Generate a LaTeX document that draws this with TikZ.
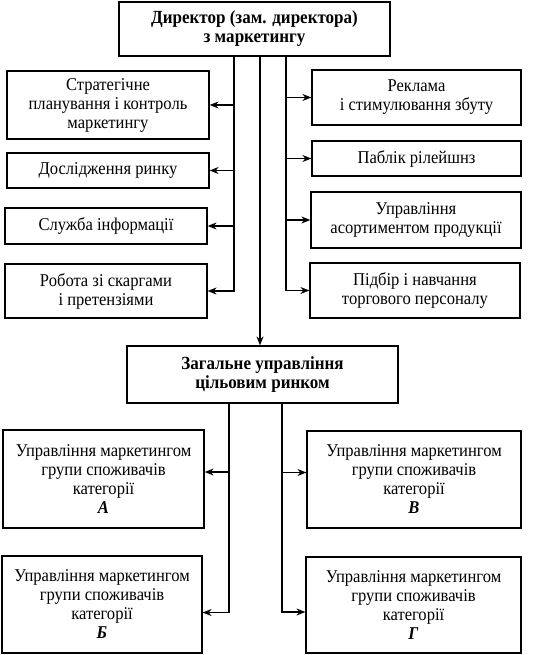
\documentclass[tikz,border=0pt]{standalone}
\usepackage{fontspec}
\setmainfont{Liberation Serif}[FakeStretch = 0.92]
\usetikzlibrary{arrows.meta, calc}
\tikzset{> = { Stealth[length = 9pt, width = 7pt] }}
\tikzset{
	unit/.style = {draw, line width = 1.2pt, align = center, inner sep = 1pt, font = \fontsize{18}{19}\selectfont},
	head/.style = {unit, font = \fontsize{18.5}{19}\selectfont\bfseries},
	link/.style = {line width = 1.2pt}
}
\newcommand{\cat}[1]{\textbf{\textit{#1}}}

\begin{document}
\begin{tikzpicture}[x = 1pt, y = -1pt]
		\useasboundingbox (0, 0) rectangle (542, 655);
		\node [head, minimum width = 271, minimum height = 54] (dir) at (254.5, 29) {Директор (зам. директора)\\з маркетингу};

		\node [unit, minimum width = 202, minimum height = 68] (strat) at (108, 105) {Стратегічне\\планування і контроль\\маркетингу};
		\node [unit, minimum width = 202, minimum height = 35] (dosl) at (108, 170.5) {Дослідження ринку};
		\node [unit, minimum width = 202, minimum height = 36] (sluzh) at (106, 226) {Служба інформації};
		\node [unit, minimum width = 202, minimum height = 54] (skarg) at (106, 291) {Робота зі скаргами\\і претензіями};

		\node [unit, minimum width = 209, minimum height = 55] (rekl) at (416.5, 97.5) {Реклама\\і стимулювання збуту};
		\node [unit, minimum width = 209, minimum height = 35] (pabl) at (416.5, 158.5) {Паблік рілейшнз};
		\node [unit, minimum width = 210, minimum height = 56] (asort) at (416, 220) {Управління\\асортиментом продукції};
		\node [unit, minimum width = 210, minimum height = 55] (pidb) at (415, 290.5) {Підбір і навчання\\торгового персоналу};

		\node [head, minimum width = 271, minimum height = 57] (zag) at (262.5, 374.5) {Загальне управління\\цільовим ринком};

		\node [unit, minimum width = 201, minimum height = 98] (catA) at (103.5, 479) {Управління маркетингом\\групи споживачів\\категорії\\\cat{А}};
		\node [unit, minimum width = 214, minimum height = 97] (catV) at (414, 479.5) {Управління маркетингом\\групи споживачів\\категорії\\\cat{В}};
		\node [unit, minimum width = 200, minimum height = 97] (catB) at (102, 604.5) {Управління маркетингом\\групи споживачів\\категорії\\\cat{Б}};
		\node [unit, minimum width = 215, minimum height = 96] (catG) at (413.5, 605) {Управління маркетингом\\групи споживачів\\категорії\\\cat{Г}};

		\coordinate (trunkL) at (234, 0);
		\coordinate (trunkC) at (260, 0);
		\coordinate (trunkR) at (286, 0);
		\coordinate (branchL) at (229, 0);
		\coordinate (branchR) at (282, 0);

		\foreach \n in {strat, dosl, sluzh, skarg}
			\draw [link, ->] (dir.south -| trunkL) |- (\n.east);
		\foreach \n in {rekl, pabl, asort, pidb}
			\draw [link, ->] (dir.south -| trunkR) |- (\n.west);
		\draw [link, ->] (dir.south -| trunkC) -- (zag.north -| trunkC);

		\draw [link, ->] (zag.south -| branchL) |- ([yshift = 7pt]catA.east);
		\draw [link, ->] (zag.south -| branchL) |- ([yshift = -8pt]catB.east);
		\draw [link, ->] (zag.south -| branchR) |- ([yshift = 7pt]catV.west);
		\draw [link, ->] (zag.south -| branchR) |- ([yshift = -7pt]catG.west);
\end{tikzpicture}
\end{document}
